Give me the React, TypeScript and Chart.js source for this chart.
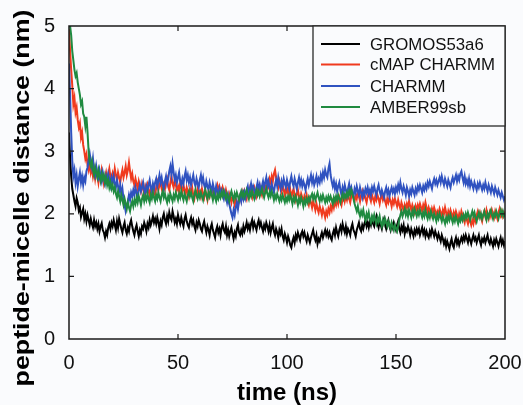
import React, { useEffect, useRef } from "react";
import { Chart, registerables } from "chart.js";

Chart.register(...registerables);

// time step between samples (ns)
const TIME_STEP_NS = 0.5;

const SERIES_NAMES = ["GROMOS53a6", "cMAP CHARMM", "CHARMM", "AMBER99sb"];
const SERIES_COLORS = ["#000000", "#f03a1e", "#2f52c0", "#1f8a40"];
const X_TICKS = [0, 50, 100, 150, 200];
const Y_TICKS = [0, 1, 2, 3, 4, 5];
const X_TITLE = "time (ns)";
const Y_TITLE = "peptide-micelle distance (nm)";

const gromos = [
  3.3, 2.9, 2.6, 2.4, 2.3, 2.2, 2.12, 2.25, 2.18, 2.05, 2.1, 1.95, 2.02, 2.08, 1.92, 2.0, 1.88, 1.98, 1.9, 1.82,
  1.92, 1.84, 1.78, 1.9, 1.8, 1.86, 1.76, 1.84, 1.72, 1.8, 1.85, 1.74, 1.7, 1.62, 1.72, 1.66, 1.78, 1.84, 1.76, 1.86,
  1.8, 1.9, 1.82, 1.74, 1.88, 1.78, 1.92, 1.84, 1.76, 1.7, 1.8, 1.86, 1.74, 1.68, 1.78, 1.72, 1.84, 1.9, 1.8, 1.72,
  1.66, 1.76, 1.82, 1.72, 1.64, 1.74, 1.68, 1.8, 1.76, 1.86, 1.8, 1.72, 1.84, 1.78, 1.9, 1.82, 1.88, 1.96, 1.86, 1.92,
  1.84, 1.94, 1.86, 1.76, 1.88, 1.82, 1.94, 2.0, 1.9, 1.84, 1.96, 1.88, 2.02, 1.94, 1.9, 2.04, 1.96, 1.86, 1.92, 1.84,
  1.98, 1.9, 1.84, 1.94, 1.86, 1.8, 1.92, 1.98, 1.88, 1.82, 1.78, 1.88, 1.94, 1.84, 1.9, 1.8, 1.74, 1.86, 1.8, 1.9,
  1.84, 1.76, 1.72, 1.82, 1.88, 1.78, 1.7, 1.8, 1.74, 1.66, 1.78, 1.84, 1.74, 1.68, 1.62, 1.74, 1.8, 1.7, 1.76, 1.66,
  1.78, 1.84, 1.74, 1.7, 1.8, 1.66, 1.74, 1.64, 1.72, 1.78, 1.68, 1.6, 1.7, 1.64, 1.76, 1.82, 1.7, 1.66, 1.74, 1.68,
  1.8, 1.72, 1.78, 1.86, 1.76, 1.82, 1.74, 1.84, 1.9, 1.78, 1.86, 1.8, 1.74, 1.84, 1.9, 1.8, 1.86, 1.78, 1.72, 1.82,
  1.76, 1.86, 1.8, 1.72, 1.82, 1.7, 1.78, 1.84, 1.72, 1.66, 1.76, 1.7, 1.62, 1.74, 1.68, 1.76, 1.64, 1.58, 1.68, 1.62,
  1.54, 1.64, 1.58, 1.5, 1.46, 1.56, 1.62, 1.54, 1.66, 1.6, 1.7, 1.64, 1.58, 1.68, 1.72, 1.64, 1.7, 1.62, 1.56, 1.66,
  1.6, 1.54, 1.62, 1.68, 1.74, 1.64, 1.58, 1.66, 1.52, 1.6, 1.56, 1.64, 1.7, 1.62, 1.68, 1.74, 1.66, 1.72, 1.64, 1.7,
  1.62, 1.58, 1.68, 1.74, 1.66, 1.78, 1.7, 1.64, 1.74, 1.8, 1.72, 1.84, 1.76, 1.7, 1.8, 1.68, 1.76, 1.72, 1.66, 1.78,
  1.84, 1.74, 1.7, 1.64, 1.74, 1.8, 1.86, 1.76, 1.72, 1.82, 1.76, 1.84, 1.9, 1.8, 1.86, 1.78, 1.88, 1.82, 1.92, 1.84,
  1.8, 1.9, 1.96, 1.84, 1.78, 1.88, 1.82, 1.76, 1.86, 1.92, 1.82, 1.76, 1.84, 1.9, 1.8, 1.74, 1.84, 1.78, 1.86, 1.8,
  1.74, 1.82, 1.88, 1.76, 1.7, 1.8, 1.74, 1.82, 1.68, 1.76, 1.72, 1.8, 1.74, 1.66, 1.76, 1.7, 1.64, 1.74, 1.68, 1.76,
  1.7, 1.76, 1.66, 1.72, 1.78, 1.68, 1.74, 1.64, 1.72, 1.66, 1.62, 1.72, 1.66, 1.76, 1.7, 1.64, 1.72, 1.66, 1.6, 1.68,
  1.62, 1.56, 1.66, 1.6, 1.52, 1.58, 1.48, 1.56, 1.5, 1.44, 1.54, 1.6, 1.5, 1.46, 1.56, 1.62, 1.52, 1.58, 1.5, 1.56,
  1.62, 1.56, 1.64, 1.58, 1.66, 1.6, 1.54, 1.64, 1.58, 1.52, 1.6, 1.66, 1.58, 1.62, 1.54, 1.6, 1.66, 1.56, 1.5, 1.6,
  1.56, 1.62, 1.54, 1.6, 1.66, 1.56, 1.52, 1.6, 1.54, 1.48, 1.58, 1.52, 1.6, 1.54, 1.48, 1.56, 1.62, 1.52, 1.58, 1.5,
  1.56,
];

const cmapCharmm = [
  4.95, 4.6, 4.3, 4.05, 3.75, 3.85, 3.62, 3.7, 3.5, 3.38, 3.45, 3.22, 3.3, 3.1, 3.0, 2.88, 2.95, 2.78, 2.7, 2.82,
  2.66, 2.74, 2.6, 2.7, 2.56, 2.68, 2.62, 2.5, 2.64, 2.56, 2.7, 2.6, 2.48, 2.58, 2.66, 2.54, 2.62, 2.72, 2.6, 2.52,
  2.64, 2.56, 2.72, 2.62, 2.54, 2.66, 2.58, 2.5, 2.62, 2.7, 2.58, 2.66, 2.76, 2.62, 2.7, 2.82, 2.68, 2.56, 2.64, 2.52,
  2.46, 2.56, 2.48, 2.4, 2.52, 2.44, 2.36, 2.48, 2.4, 2.32, 2.44, 2.38, 2.46, 2.36, 2.3, 2.42, 2.34, 2.44, 2.38, 2.3,
  2.42, 2.5, 2.38, 2.46, 2.52, 2.4, 2.34, 2.46, 2.4, 2.5, 2.56, 2.44, 2.38, 2.5, 2.6, 2.48, 2.42, 2.54, 2.46, 2.38,
  2.44, 2.36, 2.5, 2.42, 2.34, 2.46, 2.38, 2.3, 2.42, 2.36, 2.28, 2.4, 2.34, 2.42, 2.3, 2.24, 2.36, 2.3, 2.4, 2.32,
  2.36, 2.28, 2.4, 2.32, 2.26, 2.38, 2.3, 2.22, 2.34, 2.28, 2.38, 2.32, 2.42, 2.34, 2.28, 2.4, 2.46, 2.36, 2.44, 2.38,
  2.32, 2.42, 2.36, 2.28, 2.38, 2.3, 2.22, 2.32, 2.26, 2.18, 2.28, 2.22, 2.14, 2.24, 2.18, 2.12, 2.24, 2.3, 2.22, 2.34,
  2.26, 2.36, 2.3, 2.24, 2.36, 2.3, 2.4, 2.32, 2.26, 2.36, 2.42, 2.34, 2.28, 2.4, 2.34, 2.44, 2.36, 2.3, 2.42, 2.36,
  2.44, 2.38, 2.5, 2.44, 2.56, 2.5, 2.6, 2.52, 2.64, 2.7, 2.58, 2.5, 2.42, 2.52, 2.44, 2.36, 2.46, 2.38, 2.3, 2.4,
  2.34, 2.42, 2.3, 2.38, 2.26, 2.34, 2.4, 2.3, 2.22, 2.32, 2.38, 2.28, 2.22, 2.32, 2.26, 2.18, 2.28, 2.22, 2.3, 2.2,
  2.14, 2.24, 2.18, 2.1, 2.2, 2.14, 2.06, 2.16, 2.08, 2.02, 2.12, 2.06, 1.98, 2.08, 2.02, 1.94, 2.04, 1.98, 2.08, 2.02,
  2.12, 2.06, 2.18, 2.1, 2.2, 2.14, 2.24, 2.16, 2.26, 2.2, 2.14, 2.24, 2.3, 2.2, 2.28, 2.22, 2.32, 2.24, 2.18, 2.28,
  2.34, 2.26, 2.2, 2.3, 2.24, 2.34, 2.28, 2.2, 2.3, 2.36, 2.26, 2.32, 2.24, 2.18, 2.28, 2.34, 2.26, 2.2, 2.3, 2.24,
  2.18, 2.28, 2.22, 2.3, 2.24, 2.16, 2.26, 2.3, 2.22, 2.28, 2.2, 2.14, 2.24, 2.18, 2.26, 2.2, 2.12, 2.22, 2.16, 2.24,
  2.18, 2.12, 2.22, 2.14, 2.08, 2.18, 2.12, 2.04, 2.14, 2.08, 2.16, 2.1, 2.2, 2.12, 2.06, 2.14, 2.08, 2.02, 2.12, 2.06,
  2.14, 2.08, 2.16, 2.1, 2.04, 2.14, 2.08, 2.18, 2.1, 2.02, 2.1, 2.04, 1.98, 2.08, 2.02, 2.1, 2.04, 1.96, 2.04, 2.0,
  2.08, 2.02, 1.96, 2.06, 2.0, 2.1, 2.02, 1.94, 2.04, 1.98, 2.06, 2.0, 1.92, 2.02, 1.96, 2.04, 1.98, 1.9, 2.0, 1.94,
  2.04, 1.98, 1.92, 1.86, 1.96, 1.9, 1.84, 1.94, 1.88, 1.82, 1.9, 1.84, 1.94, 1.88, 1.98, 2.04, 1.96, 2.02, 1.94, 1.88,
  1.98, 2.04, 1.96, 2.06, 1.98, 1.92, 2.02, 1.96, 2.06, 2.0, 1.94, 2.04, 1.98, 1.92, 2.02, 2.08, 1.98, 2.04, 1.96, 2.02,
  1.98,
];

const charmm = [
  4.4, 3.9, 3.3, 2.85, 2.6, 2.7, 2.5, 2.62, 2.44, 2.56, 2.66, 2.5, 2.6, 2.46, 2.58, 2.52, 2.68, 2.74, 2.86, 2.96,
  2.84, 2.74, 2.88, 2.7, 2.62, 2.76, 2.64, 2.58, 2.7, 2.6, 2.52, 2.66, 2.56, 2.48, 2.6, 2.52, 2.64, 2.56, 2.46, 2.58,
  2.5, 2.6, 2.48, 2.42, 2.54, 2.44, 2.36, 2.46, 2.3, 2.4, 2.24, 2.14, 2.04, 2.12, 2.2, 2.3, 2.22, 2.34, 2.28, 2.38,
  2.3, 2.42, 2.34, 2.26, 2.38, 2.46, 2.36, 2.42, 2.5, 2.38, 2.32, 2.44, 2.36, 2.46, 2.54, 2.42, 2.36, 2.48, 2.4, 2.5,
  2.56, 2.44, 2.52, 2.62, 2.5, 2.58, 2.46, 2.4, 2.52, 2.6, 2.48, 2.56, 2.68, 2.76, 2.62, 2.8, 2.66, 2.54, 2.62, 2.5,
  2.58, 2.66, 2.52, 2.46, 2.56, 2.48, 2.6, 2.68, 2.54, 2.62, 2.5, 2.58, 2.46, 2.54, 2.62, 2.5, 2.44, 2.56, 2.48, 2.42,
  2.54, 2.62, 2.5, 2.58, 2.46, 2.4, 2.52, 2.44, 2.38, 2.5, 2.42, 2.36, 2.48, 2.4, 2.32, 2.44, 2.36, 2.3, 2.4, 2.32,
  2.38, 2.3, 2.24, 2.34, 2.26, 2.18, 2.28, 2.16, 2.08, 2.0, 1.94, 2.06, 1.98, 2.1, 2.18, 2.08, 2.2, 2.28, 2.2, 2.32,
  2.24, 2.34, 2.26, 2.38, 2.44, 2.32, 2.4, 2.48, 2.36, 2.44, 2.38, 2.3, 2.42, 2.5, 2.38, 2.46, 2.36, 2.44, 2.52, 2.42,
  2.5, 2.58, 2.44, 2.52, 2.42, 2.36, 2.48, 2.4, 2.34, 2.46, 2.54, 2.44, 2.58, 2.48, 2.4, 2.52, 2.44, 2.56, 2.48, 2.42,
  2.54, 2.46, 2.4, 2.52, 2.6, 2.5, 2.44, 2.56, 2.48, 2.4, 2.5, 2.58, 2.46, 2.54, 2.44, 2.52, 2.46, 2.38, 2.48, 2.56,
  2.46, 2.54, 2.62, 2.5, 2.58, 2.46, 2.52, 2.6, 2.48, 2.56, 2.5, 2.62, 2.54, 2.66, 2.58, 2.7, 2.62, 2.58, 2.72, 2.8,
  2.62, 2.52, 2.44, 2.52, 2.4, 2.48, 2.36, 2.44, 2.5, 2.38, 2.3, 2.42, 2.34, 2.46, 2.38, 2.3, 2.4, 2.48, 2.36, 2.42,
  2.32, 2.28, 2.4, 2.34, 2.44, 2.36, 2.3, 2.42, 2.34, 2.26, 2.36, 2.3, 2.4, 2.34, 2.42, 2.32, 2.38, 2.3, 2.42, 2.36,
  2.44, 2.36, 2.3, 2.4, 2.46, 2.36, 2.3, 2.38, 2.32, 2.26, 2.36, 2.42, 2.32, 2.38, 2.28, 2.36, 2.42, 2.34, 2.4, 2.32,
  2.42, 2.36, 2.46, 2.38, 2.5, 2.4, 2.34, 2.44, 2.38, 2.3, 2.42, 2.36, 2.28, 2.38, 2.32, 2.42, 2.36, 2.3, 2.4, 2.34,
  2.44, 2.38, 2.46, 2.4, 2.34, 2.44, 2.38, 2.46, 2.4, 2.5, 2.44, 2.52, 2.46, 2.4, 2.5, 2.56, 2.48, 2.54, 2.46, 2.52,
  2.58, 2.5, 2.6, 2.52, 2.46, 2.56, 2.5, 2.44, 2.54, 2.48, 2.42, 2.52, 2.58, 2.5, 2.56, 2.62, 2.52, 2.6, 2.54, 2.64,
  2.68, 2.58, 2.5, 2.6, 2.48, 2.54, 2.46, 2.56, 2.44, 2.52, 2.46, 2.4, 2.5, 2.44, 2.38, 2.48, 2.42, 2.5, 2.44, 2.38,
  2.46, 2.4, 2.5, 2.42, 2.36, 2.46, 2.4, 2.34, 2.44, 2.38, 2.32, 2.42, 2.36, 2.3, 2.38, 2.32, 2.26, 2.34, 2.28, 2.22,
  2.28,
];

const amber = [
  5.0, 5.0, 4.85, 4.6, 4.45, 4.3, 4.2, 4.25, 4.1, 4.0, 3.9, 3.75, 3.8, 3.6, 3.55, 3.4, 3.55, 3.3, 3.0, 2.82,
  2.76, 2.84, 2.7, 2.62, 2.74, 2.66, 2.58, 2.7, 2.6, 2.52, 2.64, 2.56, 2.62, 2.5, 2.58, 2.46, 2.54, 2.42, 2.5, 2.4,
  2.46, 2.36, 2.42, 2.32, 2.26, 2.36, 2.28, 2.2, 2.3, 2.22, 2.14, 2.24, 2.16, 2.08, 2.18, 2.1, 2.04, 2.14, 2.2, 2.12,
  2.22, 2.16, 2.26, 2.18, 2.28, 2.22, 2.14, 2.24, 2.3, 2.2, 2.28, 2.22, 2.32, 2.24, 2.18, 2.3, 2.24, 2.34, 2.26, 2.2,
  2.3, 2.24, 2.34, 2.26, 2.2, 2.3, 2.36, 2.26, 2.32, 2.24, 2.18, 2.28, 2.22, 2.32, 2.26, 2.2, 2.3, 2.24, 2.34, 2.28,
  2.22, 2.32, 2.26, 2.36, 2.28, 2.22, 2.32, 2.26, 2.2, 2.3, 2.36, 2.28, 2.34, 2.26, 2.2, 2.3, 2.38, 2.3, 2.24, 2.32,
  2.26, 2.34, 2.28, 2.22, 2.32, 2.38, 2.3, 2.24, 2.34, 2.28, 2.36, 2.3, 2.22, 2.32, 2.26, 2.2, 2.3, 2.24, 2.32, 2.26,
  2.34, 2.28, 2.36, 2.3, 2.24, 2.32, 2.26, 2.2, 2.3, 2.36, 2.28, 2.22, 2.32, 2.26, 2.34, 2.28, 2.22, 2.3, 2.36, 2.28,
  2.34, 2.26, 2.32, 2.38, 2.3, 2.24, 2.34, 2.28, 2.36, 2.3, 2.24, 2.32, 2.38, 2.3, 2.36, 2.28, 2.34, 2.4, 2.32, 2.26,
  2.34, 2.4, 2.32, 2.26, 2.34, 2.28, 2.36, 2.3, 2.22, 2.3, 2.24, 2.32, 2.26, 2.2, 2.28, 2.22, 2.3, 2.24, 2.18, 2.26,
  2.2, 2.28, 2.22, 2.3, 2.24, 2.16, 2.26, 2.2, 2.28, 2.22, 2.14, 2.24, 2.18, 2.26, 2.2, 2.12, 2.22, 2.16, 2.24, 2.18,
  2.26, 2.2, 2.28, 2.32, 2.24, 2.3, 2.22, 2.28, 2.34, 2.26, 2.2, 2.28, 2.22, 2.3, 2.24, 2.18, 2.26, 2.2, 2.28, 2.22,
  2.28, 2.22, 2.16, 2.26, 2.2, 2.28, 2.22, 2.3, 2.24, 2.18, 2.26, 2.32, 2.24, 2.3, 2.26, 2.34, 2.28, 2.36, 2.3, 2.38,
  2.32, 2.24, 2.16, 2.1, 2.04, 2.12, 2.02, 1.96, 2.04, 1.98, 2.06, 1.96, 1.9, 2.0, 1.94, 2.02, 1.92, 1.86, 1.96, 1.9,
  1.98, 1.9, 1.84, 1.94, 1.88, 1.96, 1.86, 1.8, 1.9, 1.84, 1.92, 1.86, 1.8, 1.88, 1.82, 1.76, 1.86, 1.8, 1.74, 1.82,
  1.76, 1.72, 1.82, 1.9, 1.98, 2.04, 1.96, 2.02, 2.08, 1.98, 2.04, 1.96, 2.06, 2.0, 1.94, 2.04, 1.98, 2.08, 2.02, 1.96,
  2.04, 1.98, 2.06, 2.0, 1.94, 2.02, 1.96, 2.06, 1.98, 1.92, 2.0, 1.94, 2.04, 1.98, 1.92, 2.0, 1.94, 1.88, 1.98, 1.92,
  2.0, 1.94, 1.88, 1.96, 1.9, 1.84, 1.94, 1.88, 1.96, 1.9, 1.98, 1.92, 1.86, 1.94, 1.88, 1.96, 1.9, 1.84, 1.92, 1.88,
  1.96, 1.9, 1.98, 1.92, 2.0, 1.94, 2.02, 1.96, 1.9, 1.98, 2.04, 1.96, 2.02, 1.94, 1.88, 1.96, 2.02, 1.94, 2.0, 1.92,
  1.98, 2.04, 1.96, 1.9, 2.0, 1.94, 2.02, 2.06, 1.98, 1.92, 2.0, 1.96, 2.04, 1.98, 1.92, 2.0, 2.06, 1.98, 2.04, 1.96,
  2.0,
];

const SERIES_VALUES = [gromos, cmapCharmm, charmm, amber];

const FONT = "'Liberation Sans', Arial, Helvetica, sans-serif";
const BG = "#fafbfd";

const decorPlugin = {
  id: "decor",
  beforeDraw(chart: any) {
    const { ctx, width, height } = chart;
    ctx.save();
    ctx.fillStyle = BG;
    ctx.fillRect(0, 0, width, height);
    ctx.restore();
  },
  afterDatasetsDraw(chart: any) {
    const { ctx, chartArea } = chart;
    const { left, right, top, bottom } = chartArea;
    const xs = chart.scales.x;
    const ys = chart.scales.y;
    ctx.save();
    ctx.strokeStyle = "#1a1a1a";
    ctx.lineWidth = 1.5;
    ctx.strokeRect(left, top, right - left, bottom - top);
    ctx.lineWidth = 1.2;
    const tl = 5;
    ctx.beginPath();
    X_TICKS.forEach((v) => {
      if (v === X_TICKS[0] || v === X_TICKS[X_TICKS.length - 1]) return;
      const px = xs.getPixelForValue(v);
      ctx.moveTo(px, bottom);
      ctx.lineTo(px, bottom - tl);
      ctx.moveTo(px, top);
      ctx.lineTo(px, top + tl);
    });
    Y_TICKS.forEach((v) => {
      if (v === Y_TICKS[0] || v === Y_TICKS[Y_TICKS.length - 1]) return;
      const py = ys.getPixelForValue(v);
      ctx.moveTo(left, py);
      ctx.lineTo(left + tl, py);
      ctx.moveTo(right, py);
      ctx.lineTo(right - tl, py);
    });
    ctx.stroke();

    // legend box
    const lx0 = 313;
    const lx1 = right;
    const ly0 = top;
    const ly1 = 126;
    ctx.fillStyle = BG;
    ctx.fillRect(lx0, ly0, lx1 - lx0, ly1 - ly0);
    ctx.strokeStyle = "#2a2a2a";
    ctx.lineWidth = 1.3;
    ctx.strokeRect(lx0, ly0, lx1 - lx0, ly1 - ly0);
    const rowY = [44, 64.5, 86, 107];
    ctx.font = `16.8px ${FONT}`;
    ctx.textBaseline = "middle";
    ctx.textAlign = "left";
    SERIES_NAMES.forEach((name, i) => {
      ctx.strokeStyle = SERIES_COLORS[i];
      ctx.lineWidth = 2;
      ctx.beginPath();
      ctx.moveTo(321, rowY[i]);
      ctx.lineTo(360, rowY[i]);
      ctx.stroke();
      ctx.fillStyle = "#111";
      ctx.fillText(name, 370, rowY[i] + 1);
    });

    // axis titles
    ctx.fillStyle = "#000";
    ctx.font = `bold 24px ${FONT}`;
    ctx.textAlign = "center";
    ctx.textBaseline = "alphabetic";
    ctx.fillText(X_TITLE, (left + right) / 2, 400);

    ctx.font = `bold 22px ${FONT}`;
    const w = ctx.measureText(Y_TITLE).width;
    const sx = 377 / w;
    ctx.translate(23, 198);
    ctx.rotate(-Math.PI / 2);
    ctx.scale(sx, 1);
    ctx.textBaseline = "middle";
    ctx.fillText(Y_TITLE, 0, 0);
    ctx.restore();
  },
};

export default function App() {
  const ref = useRef<HTMLCanvasElement>(null);
  useEffect(() => {
    if (!ref.current) return;
    const order = [3, 2, 1, 0];
    const chart = new Chart(ref.current, {
      type: "line",
      data: {
        datasets: SERIES_VALUES.map((vals, i) => ({
          label: SERIES_NAMES[i],
          data: vals.map((v, k) => ({ x: k * TIME_STEP_NS, y: v })),
          borderColor: SERIES_COLORS[i],
          borderWidth: 2,
          pointRadius: 0,
          tension: 0,
          fill: false,
          order: order[i],
        })),
      },
      options: {
        animation: false,
        responsive: false,
        layout: { padding: { left: 0, right: 18, top: 25, bottom: 0 } },
        plugins: { legend: { display: false }, tooltip: { enabled: false } },
        scales: {
          x: {
            type: "linear",
            min: 0,
            max: 200,
            afterFit: (s: any) => {
              s.height = 66;
              s.paddingLeft = 0;
              s.paddingRight = 0;
            },
            afterBuildTicks: (s: any) => {
              s.ticks = X_TICKS.map((v) => ({ value: v }));
            },
            grid: { display: false, drawTicks: false },
            border: { display: false },
            ticks: { color: "#111", font: { family: FONT, size: 20 }, padding: 12, maxRotation: 0 },
          },
          y: {
            type: "linear",
            min: 0,
            max: 5,
            afterFit: (s: any) => {
              s.width = 69;
            },
            afterBuildTicks: (s: any) => {
              s.ticks = Y_TICKS.map((v) => ({ value: v }));
            },
            grid: { display: false, drawTicks: false },
            border: { display: false },
            ticks: { color: "#111", font: { family: FONT, size: 20 }, padding: 14 },
          },
        },
      },
      plugins: [decorPlugin],
    });
    return () => chart.destroy();
  }, []);
  return (
    <canvas
      ref={ref}
      width={523}
      height={405}
      style={{ position: "fixed", left: 0, top: 0, width: 523, height: 405, display: "block" }}
    />
  );
}
